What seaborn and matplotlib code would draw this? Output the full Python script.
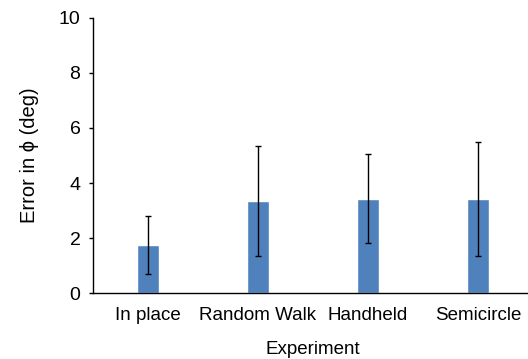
import numpy as np
import pandas as pd
import matplotlib
matplotlib.use('Agg')
import matplotlib.pyplot as plt
import seaborn as sns

sns.set_style('white')
plt.rcParams['font.family'] = ['Liberation Sans', 'DejaVu Sans']
plt.rcParams['text.color'] = 'black'
plt.rcParams['axes.labelcolor'] = 'black'
plt.rcParams['xtick.color'] = 'black'
plt.rcParams['ytick.color'] = 'black'

# Data
experiments = ['In place', 'Random Walk', 'Handheld', 'Semicircle']
mean_error = [1.75, 3.35, 3.43, 3.43]
std_error = [1.04, 1.98, 1.62, 2.07]

df = pd.DataFrame({'Experiment': experiments, 'Error': mean_error, 'Std': std_error})

fig = plt.figure(figsize=(5.28, 3.59), dpi=100)
ax = fig.add_axes([93 / 528, 1 - 293.3 / 359, 440 / 528, 275.6 / 359])

sns.barplot(data=df, x='Experiment', y='Error', color='#4F81BD', saturation=1,
            width=0.2, errorbar=None, ax=ax)
ax.errorbar(np.arange(len(df)), df['Error'], yerr=df['Std'], fmt='none',
            ecolor='black', elinewidth=1, capsize=2, capthick=1)

ax.set_xlim(-0.5, 3.5)
ax.set_ylim(0, 10)
ax.set_yticks([0, 2, 4, 6, 8, 10])
ax.tick_params(axis='y', direction='out', length=3, width=1, labelsize=14, left=True, pad=6)
ax.tick_params(axis='x', length=0, labelsize=13.5, pad=10)
for s in ['top', 'right']:
    ax.spines[s].set_visible(False)
for s in ['left', 'bottom']:
    ax.spines[s].set_color('black')
    ax.spines[s].set_linewidth(1)

ax.set_ylabel('Error in \u03d5 (deg)', fontsize=14.5, labelpad=14)
ax.set_xlabel('Experiment', fontsize=13.5, labelpad=12)

fig.savefig('out.png', dpi=100)
